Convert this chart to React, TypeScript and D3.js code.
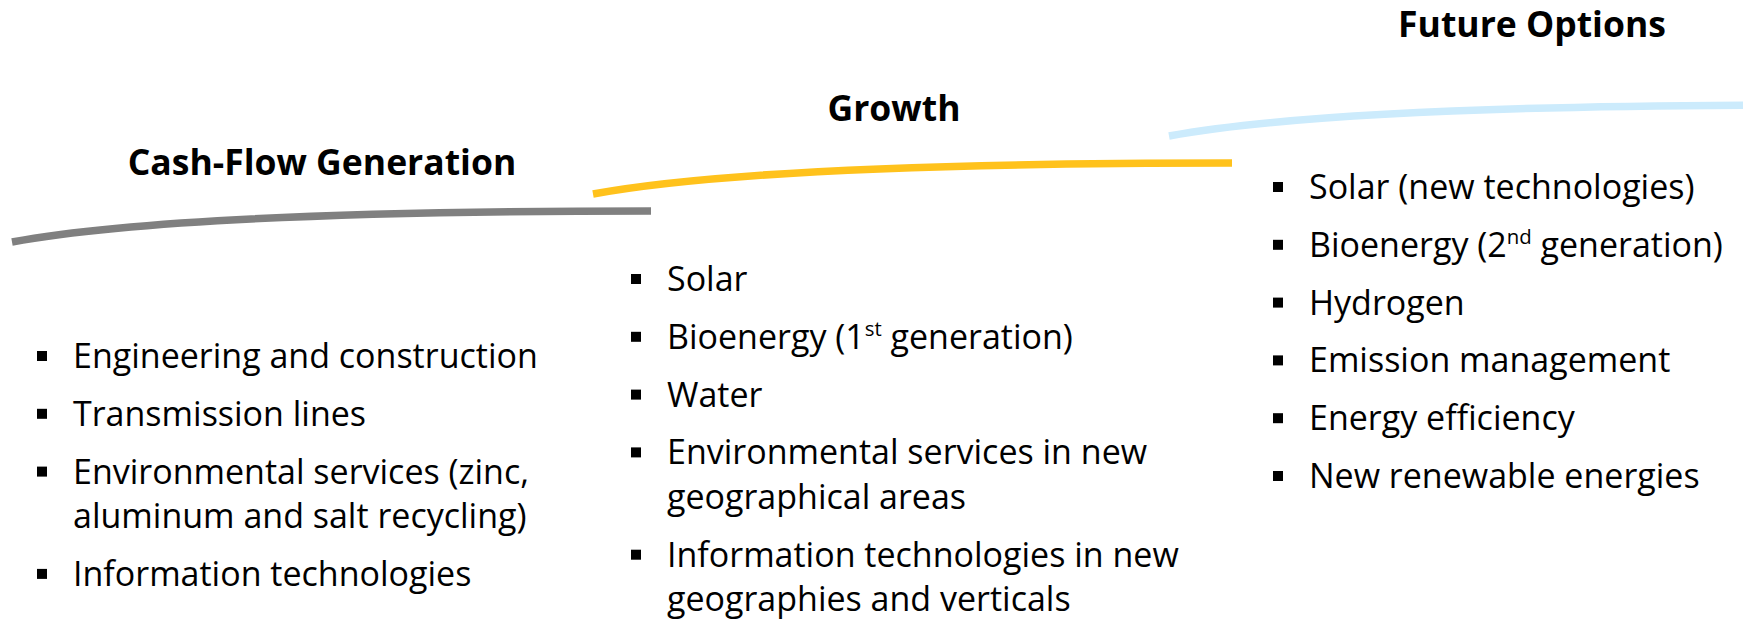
import React from 'react';
import * as d3 from 'd3';

// phases of the portfolio, left to right
const phases = ['Cash-Flow Generation', 'Growth', 'Future Options'];
const phaseColors = ['#808080', '#FFC21C', '#CCEBFC'];

// bullet items; each item is a list of wrapped lines, "^xx" marks a superscript
const cashFlowItems = [
  ['Engineering and construction'],
  ['Transmission lines'],
  ['Environmental services (zinc,', 'aluminum and salt recycling)'],
  ['Information technologies'],
];
const growthItems = [
  ['Solar'],
  ['Bioenergy (1^st generation)'],
  ['Water'],
  ['Environmental services in new', 'geographical areas'],
  ['Information technologies in new', 'geographies and verticals'],
];
const futureItems = [
  ['Solar (new technologies)'],
  ['Bioenergy (2^nd generation)'],
  ['Hydrogen'],
  ['Emission management'],
  ['Energy efficiency'],
  ['New renewable energies'],
];
const phaseItems = [cashFlowItems, growthItems, futureItems];

const W = 1743;
const H = 621;

// layout of each column (pixels)
const layout = [
  { arcX0: 12, arcY0: 242, arcX1: 651, arcY1: 211, titleX: 322, titleY: 175, textX: 73, firstY: 368 },
  { arcX0: 593, arcY0: 194, arcX1: 1232, arcY1: 163, titleX: 894, titleY: 121, textX: 667, firstY: 291 },
  { arcX0: 1169, arcY0: 136, arcX1: 1808, arcY1: 105, titleX: 1532, titleY: 37, textX: 1309, firstY: 199 },
];

const FONT = '"Open Sans", "Noto Sans", sans-serif';
const bodySize = 34;
const lineHeight = 44.5;
const itemGap = 13.3;

function renderLine(line: string) {
  const parts = line.split(/\^(\w+)/);
  return parts.map((p, i) =>
    i % 2 === 1 ? (
      <tspan key={i} fontSize={bodySize * 0.6} dy={-13}>{p}</tspan>
    ) : (
      <tspan key={i} dy={i > 0 ? 13 : 0}>{p}</tspan>
    )
  );
}

const App = () => {
  return (
    <svg width={W} height={H} style={{ position: 'absolute', left: 0, top: 0, background: '#fff' }}>
      {phases.map((name, ci) => {
        const L = layout[ci];
        // curve rises quickly then flattens out
        const p = d3.path();
        p.moveTo(L.arcX0, L.arcY0);
        p.quadraticCurveTo(L.arcX0 + (L.arcX1 - L.arcX0) * 0.265, L.arcY1, L.arcX1, L.arcY1);

        // row positions
        const items = phaseItems[ci];
        const rows: { line: string; first: boolean; y: number }[] = [];
        let nLines = 0;
        items.forEach((item, ii) => {
          item.forEach((line, li) => {
            rows.push({ line, first: li === 0, y: L.firstY + nLines * lineHeight + ii * itemGap });
            nLines++;
          });
        });

        return (
          <g key={name}>
            <path d={p.toString()} fill="none" stroke={phaseColors[ci]} strokeWidth={7.5} />
            <text
              x={L.titleX}
              y={L.titleY}
              textAnchor="middle"
              fontFamily={FONT}
              fontWeight="bold"
              fontSize={35.5}
              fill="#000"
            >
              {name}
            </text>
            {rows.map((r, ri) => (
              <g key={ri}>
                {r.first && (
                  <rect x={L.textX - 36} y={r.y - 17} width={10} height={10} fill="#000" />
                )}
                <text x={L.textX} y={r.y} fontFamily={FONT} fontSize={bodySize} fill="#000">
                  {renderLine(r.line)}
                </text>
              </g>
            ))}
          </g>
        );
      })}
    </svg>
  );
};

export default App;
